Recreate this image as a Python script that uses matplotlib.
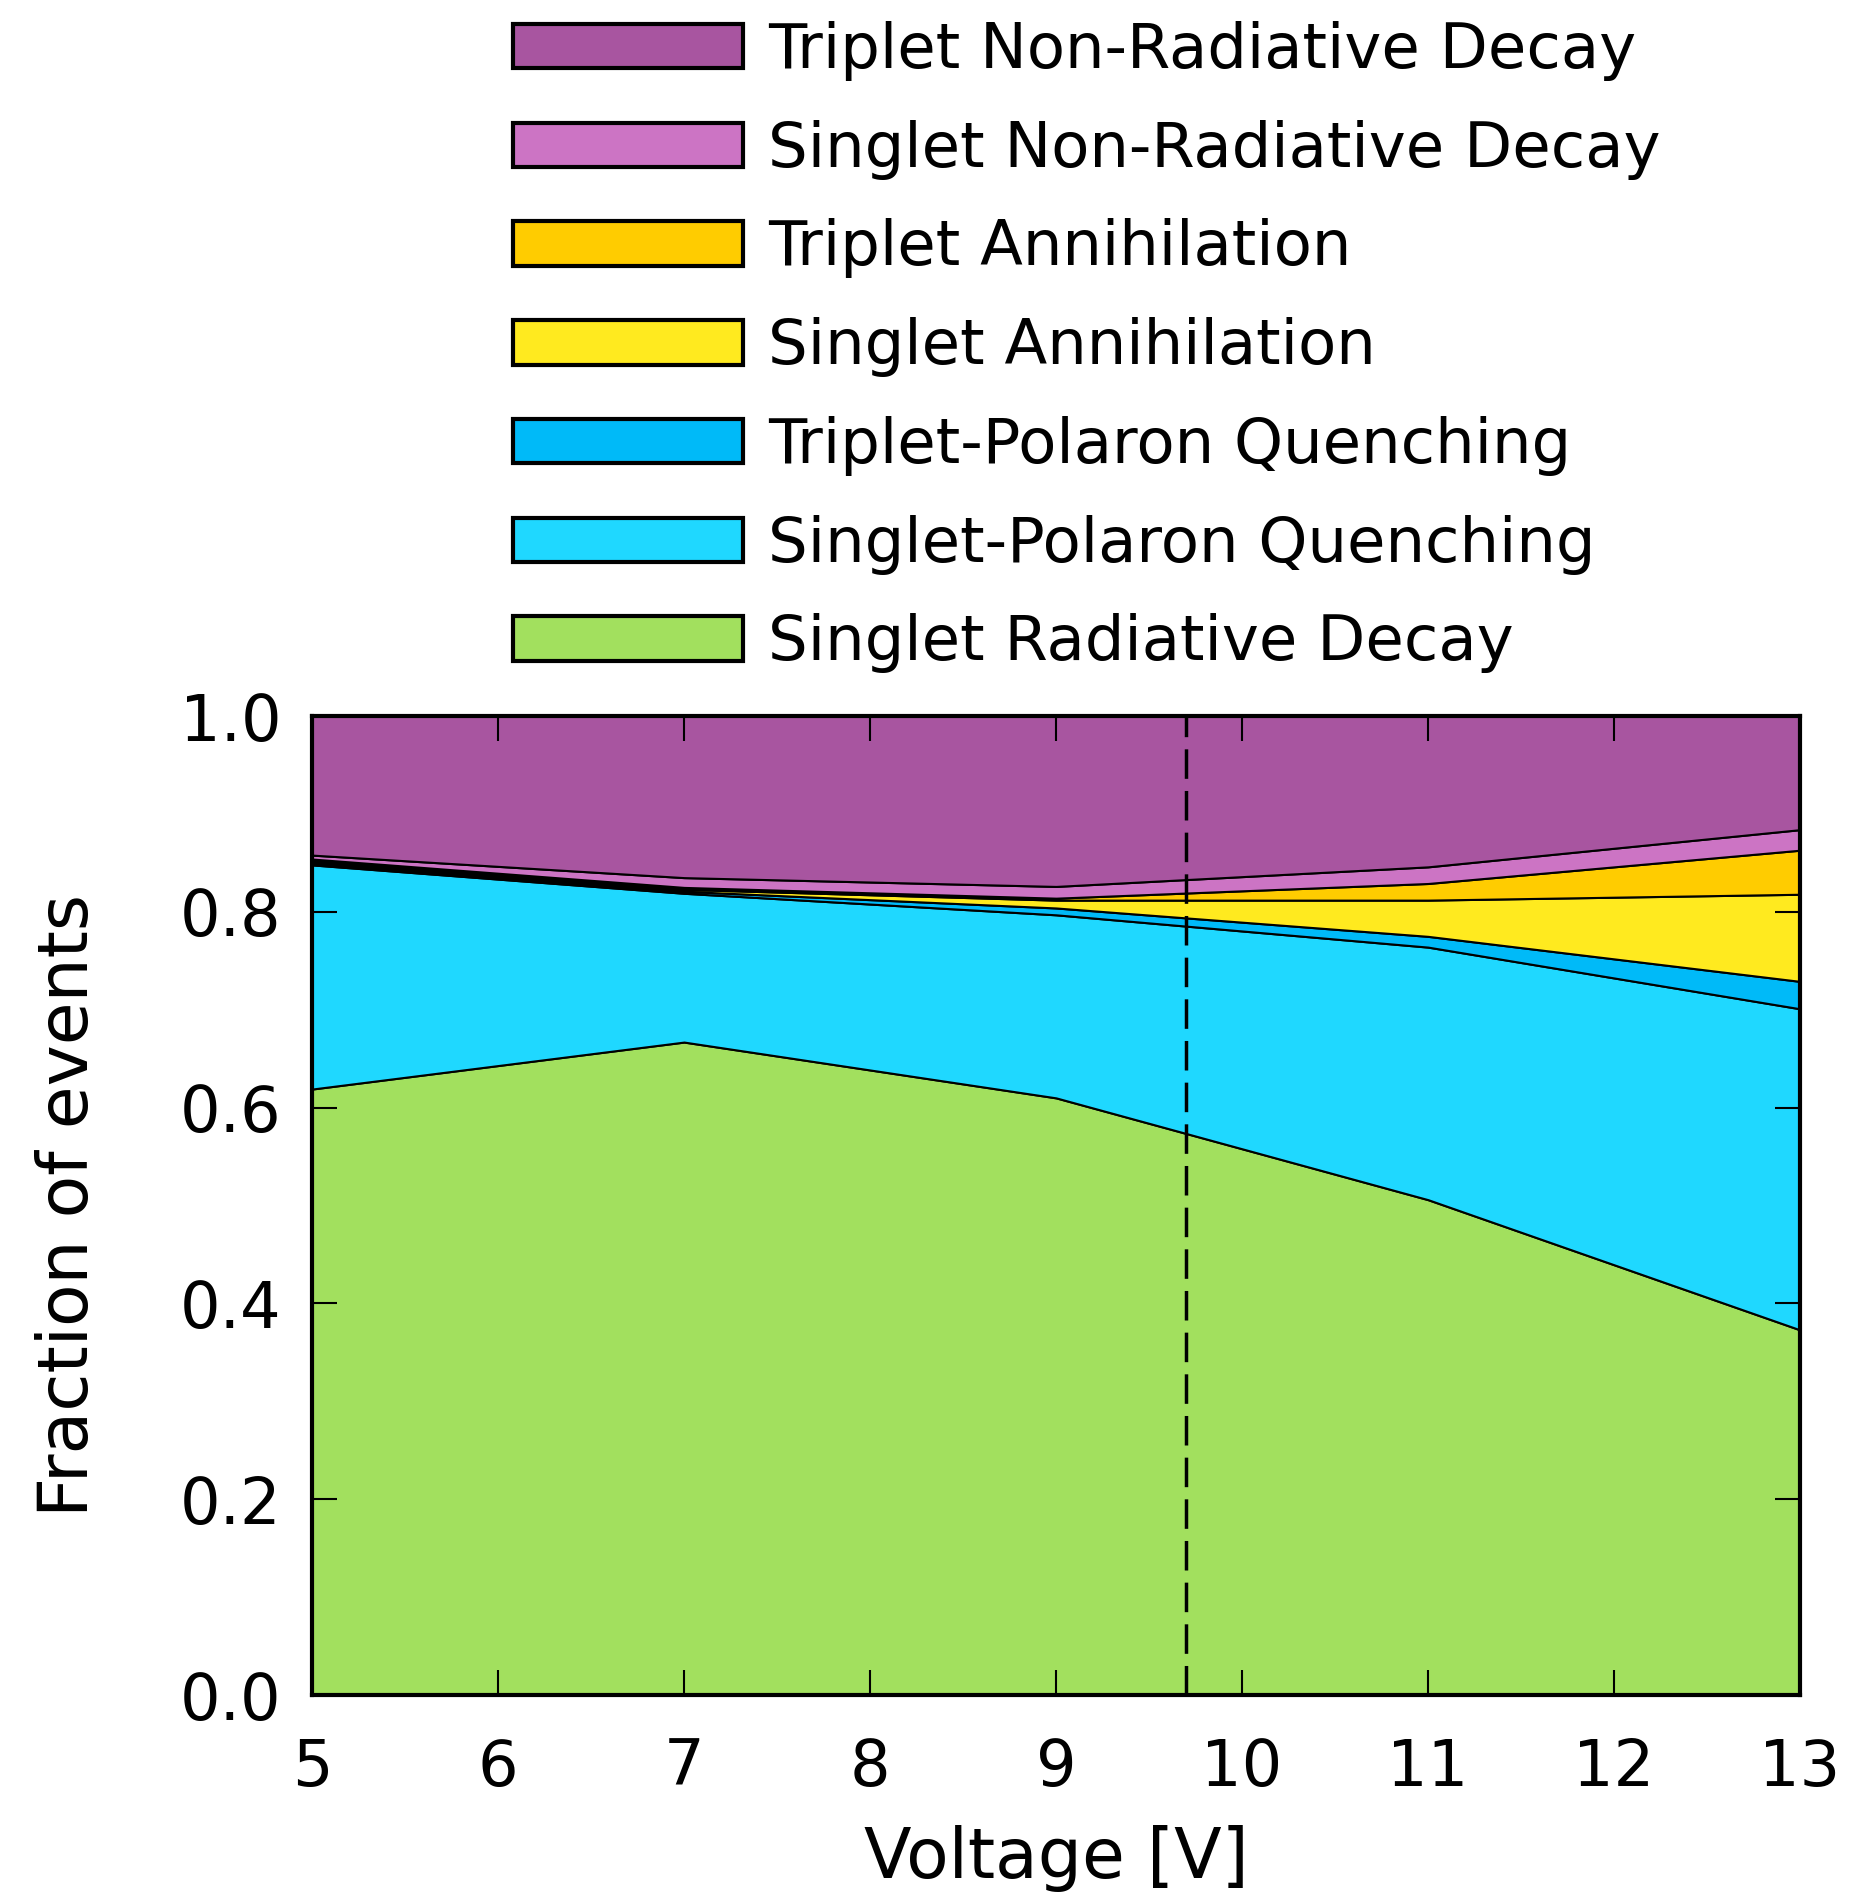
import numpy as np
import matplotlib.pyplot as plt
from matplotlib.patches import Patch

plt.rcParams['font.family'] = ['DejaVu Sans']

# Data (fraction of events per process)
voltage = [5, 7, 9, 11, 13]
singlet_radiative = [0.619, 0.667, 0.610, 0.506, 0.373]
singlet_polaron = [0.229, 0.152, 0.187, 0.258, 0.328]
triplet_polaron = [0.002, 0.002, 0.007, 0.011, 0.028]
singlet_annih = [0.002, 0.002, 0.008, 0.037, 0.089]
triplet_annih = [0.002, 0.002, 0.002, 0.017, 0.045]
singlet_nonrad = [0.004, 0.010, 0.012, 0.017, 0.021]
triplet_nonrad = [0.142, 0.165, 0.174, 0.154, 0.116]
turn_on = 9.7

labels = ['Singlet Radiative Decay', 'Singlet-Polaron Quenching',
          'Triplet-Polaron Quenching', 'Singlet Annihilation',
          'Triplet Annihilation', 'Singlet Non-Radiative Decay',
          'Triplet Non-Radiative Decay']
colors = ['#a2e05e', '#1fd8ff', '#00baf8', '#ffea1f',
          '#ffcc00', '#cc74c4', '#a855a0']

fig = plt.figure(figsize=(18.54, 19.03), dpi=100)
ax = fig.add_axes([0.1683, 0.1093, 0.8026, 0.5144])

ax.stackplot(voltage, singlet_radiative, singlet_polaron, triplet_polaron,
             singlet_annih, triplet_annih, singlet_nonrad, triplet_nonrad,
             colors=colors, edgecolor='black', linewidth=1.5)
ax.axvline(turn_on, color='black', lw=2.5, ls=(0, (8.5, 3.5)))

ax.set_xlim(5, 13)
ax.set_ylim(0, 1)
ax.set_xticks(range(5, 14))
ax.set_yticks(np.arange(0, 1.01, 0.2))
ax.set_yticklabels(['0.0', '0.2', '0.4', '0.6', '0.8', '1.0'])
ax.tick_params(direction='in', length=18, width=1.5, top=True, right=True,
               labelsize=46)
ax.tick_params(axis='x', pad=30)
ax.tick_params(axis='y', pad=22)
for s in ax.spines.values():
    s.set_linewidth(3)

ax.set_xlabel('Voltage [V]', fontsize=50, labelpad=19)
ax.set_ylabel('Fraction of events', fontsize=50, labelpad=56)

# Legend above the axes, top entry = top layer
handles = [Patch(facecolor=c, edgecolor='black', linewidth=3) for c in colors]
fig.legend(handles[::-1], labels[::-1], loc='upper left',
           bbox_to_anchor=(0.2767, 0.989), frameon=False, fontsize=45,
           handlelength=3.68, handleheight=0.72, handletextpad=0.4,
           labelspacing=0.62, borderpad=0, borderaxespad=0)

fig.savefig('out.png', dpi=100)
